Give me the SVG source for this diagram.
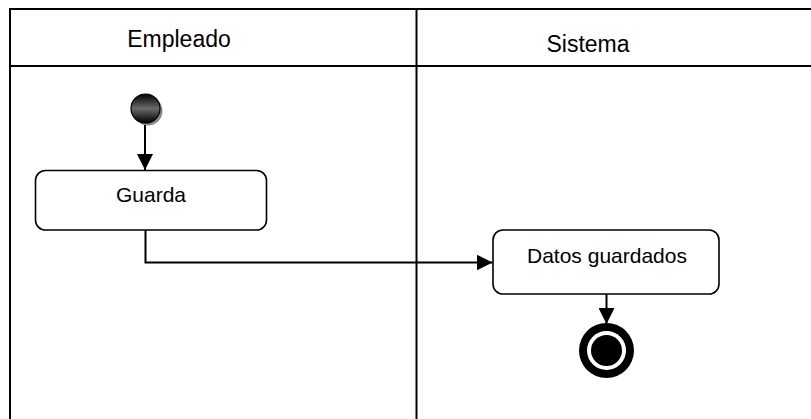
<svg xmlns="http://www.w3.org/2000/svg" width="811" height="419" viewBox="0 0 811 419">
<style>
.lane{stroke:#000;stroke-width:2;fill:none}
.box{fill:#fff;stroke:#000;stroke-width:1.6}
.lbl{font-family:"Liberation Sans",Arial,sans-serif;fill:#000;text-anchor:middle}
.conn{stroke:#000;stroke-width:2;fill:none}
</style>
<defs>
<marker id="arr" viewBox="0 0 16 16" refX="16" refY="8" markerWidth="16" markerHeight="16" markerUnits="userSpaceOnUse" orient="auto">
<path d="M0,0 L16,8 L0,16 Z" fill="#000"/>
</marker>
<linearGradient id="ball" x1="0" y1="0" x2="0" y2="1">
<stop offset="0" stop-color="#000"/>
<stop offset="0.5" stop-color="#6a6a6a"/>
<stop offset="1" stop-color="#000"/>
</linearGradient>
</defs>
<g id="lanes">
<path class="lane" d="M10,419 V9 H811"/>
<path class="lane" d="M10,66 H811"/>
<path class="lane" d="M416.5,9 V419"/>
<text class="lbl" x="179" y="47" font-size="23">Empleado</text>
<text class="lbl" x="588" y="52" font-size="23">Sistema</text>
</g>
<g id="connectors">
<path class="conn" d="M145,123 V170" marker-end="url(#arr)"/>
<path class="conn" d="M145.5,230 V262.5 H492.5" marker-end="url(#arr)"/>
<path class="conn" d="M606.5,294 V324" marker-end="url(#arr)"/>
</g>
<g id="start">
<circle cx="148" cy="111" r="14.5" fill="#888"/>
<circle cx="145.5" cy="108.5" r="14.5" fill="url(#ball)" stroke="#000" stroke-width="1.2"/>
</g>
<g id="guarda">
<rect class="box" x="35.5" y="170.5" width="231" height="59.5" rx="10"/>
<text class="lbl" x="151" y="202" font-size="21">Guarda</text>
</g>
<g id="datos">
<rect class="box" x="493" y="230" width="226" height="64" rx="10"/>
<text class="lbl" x="607" y="263" font-size="21">Datos guardados</text>
</g>
<g id="end">
<circle cx="606.5" cy="350.5" r="27.5" fill="#000"/>
<circle cx="606.5" cy="350.5" r="19.5" fill="#fff"/>
<circle cx="606.5" cy="350.5" r="15.5" fill="#000"/>
</g>
</svg>
